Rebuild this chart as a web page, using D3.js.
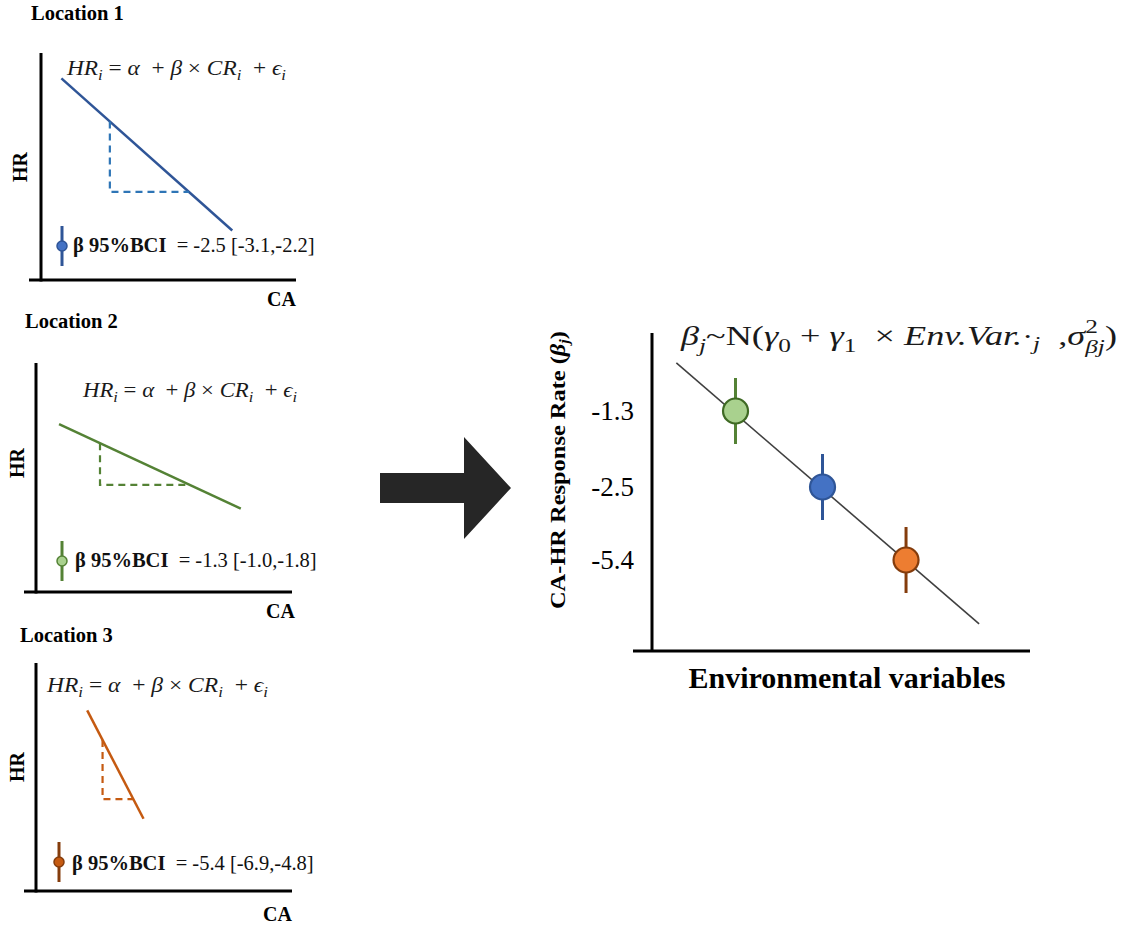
<!DOCTYPE html>
<html>
<head>
<meta charset="utf-8">
<script src="https://cdn.jsdelivr.net/npm/d3@7"></script>
<style>
  html, body { margin: 0; padding: 0; background: #ffffff; }
  svg { display: block; }
</style>
</head>
<body>
<svg id="chart" width="1123" height="925"></svg>
<script>
// ---------------- DATA ----------------
const locations   = ["Location 1", "Location 2", "Location 3"];
const betaEst     = [-2.5, -1.3, -5.4];
const betaLow     = [-3.1, -1.0, -6.9];
const betaHigh    = [-2.2, -1.8, -4.8];
// schematic regression lines in each location panel (HR = alpha + beta * CA)
const alphaHR     = [24.2, 19.5, 30.6];
const lineCAStart = [0.8, 0.9, 2.0];
const lineCAEnd   = [7.5, 8.0, 4.2];
const triCAStart  = [2.7, 2.5, 2.6];
const triCAEnd    = [5.8, 6.0, 3.8];
// right panel
const envVar      = [4.9, 2.4, 7.3];
const yTickValues = [-1.3, -2.5, -5.4];
const regEnv      = [0.7, 9.4];
const regBeta     = [-0.54, -7.94];

// ---------------- STYLE ----------------
const colLine   = ["#2f5597", "#548235", "#c55a11"];
const colDash   = ["#2e75b6", "#548235", "#c55a11"];
const colBar    = ["#2f5597", "#548235", "#843c0c"];
const colFill   = ["#4472c4", "#a9d18e", "#ed7d31"];
const colStroke = ["#2f5597", "#3f6a24", "#843c0c"];
const colMarkFill = ["#4472c4", "#a9d18e", "#c55a11"];

const svg = d3.select("#chart");
const serif = "'Liberation Serif', 'Times New Roman', serif";

// formula helper: pieces drawn sequentially, then stretched to a target width
function drawFormula(parent, x0, y0, size, targetW, pieces) {
  const g = parent.append("g");
  let x = x0;
  pieces.forEach(p => {
    if (p.stack) {
      let w = 0;
      p.stack.forEach(s => {
        const t = g.append("text")
          .attr("x", x).attr("y", y0 + (s.dy || 0) * size)
          .attr("font-family", serif)
          .attr("font-size", size * (s.scale || 1))
          .attr("font-style", s.italic ? "italic" : "normal")
          .attr("fill", "#1a1a1a")
          .text(s.t);
        w = Math.max(w, t.node().getComputedTextLength());
      });
      x += w;
    } else {
      const t = g.append("text")
        .attr("x", x).attr("y", y0 + (p.dy || 0) * size)
        .attr("font-family", serif)
        .attr("font-size", size * (p.scale || 1))
        .attr("font-style", p.italic ? "italic" : "normal")
        .attr("fill", "#1a1a1a")
        .style("white-space", "pre")
        .text(p.t);
      x += t.node().getComputedTextLength();
    }
  });
  const w = x - x0;
  const s = targetW / w;
  g.attr("transform", `translate(${x0},0) scale(${s},1) translate(${-x0},0)`);
  return g;
}

const leftFormula = [
  {t: "HR", italic: true},
  {t: "i", italic: true, scale: 0.72, dy: 0.25},
  {t: " = "},
  {t: "α", italic: true},
  {t: "  + "},
  {t: "β", italic: true},
  {t: " × "},
  {t: "CR", italic: true},
  {t: "i", italic: true, scale: 0.72, dy: 0.25},
  {t: "  + "},
  {t: "ϵ", italic: true},
  {t: "i", italic: true, scale: 0.72, dy: 0.25}
];

// ---------------- LEFT PANELS ----------------
const panels = [
  {corner: [41, 280], top: 53,  right: 296, xStart: 29, title: [31, 20],  formula: [67, 75],  fw: 219, hr: [20, 167], ca: [296, 306], mark: [62, 246], label: [73, 252]},
  {corner: [36, 592], top: 363, right: 292, xStart: 24, title: [25, 328], formula: [83, 397], fw: 214, hr: [17, 463], ca: [295, 618], mark: [62, 561], label: [75, 567]},
  {corner: [36, 891], top: 663, right: 292, xStart: 24, title: [20, 642], formula: [47, 692], fw: 221, hr: [17, 767], ca: [292, 921], mark: [59, 862], label: [72, 870]}
];

locations.forEach((loc, i) => {
  const P = panels[i];
  const g = svg.append("g");
  const x = d3.scaleLinear().domain([0, 10]).range([P.corner[0], P.right]);
  const y = d3.scaleLinear().domain([0, 25]).range([P.corner[1], P.top]);
  const hr = ca => alphaHR[i] + betaEst[i] * ca;

  // title
  g.append("text").attr("x", P.title[0]).attr("y", P.title[1])
    .attr("font-family", serif).attr("font-weight", "bold").attr("font-size", 20.5)
    .text(loc);

  // axes
  g.append("line").attr("x1", P.corner[0]).attr("x2", P.corner[0])
    .attr("y1", P.top).attr("y2", P.corner[1] + 1.5)
    .attr("stroke", "#000").attr("stroke-width", 3);
  g.append("line").attr("x1", P.xStart).attr("x2", P.right)
    .attr("y1", P.corner[1]).attr("y2", P.corner[1])
    .attr("stroke", "#000").attr("stroke-width", 3);

  // axis titles
  g.append("text")
    .attr("transform", `translate(${P.hr[0] + 7},${P.hr[1]}) rotate(-90)`)
    .attr("text-anchor", "middle")
    .attr("font-family", serif).attr("font-weight", "bold").attr("font-size", 20)
    .text("HR");
  g.append("text").attr("x", P.ca[0]).attr("y", P.ca[1])
    .attr("text-anchor", "end")
    .attr("font-family", serif).attr("font-weight", "bold").attr("font-size", 20)
    .text("CA");

  // formula
  drawFormula(g, P.formula[0], P.formula[1], 20, P.fw, leftFormula);

  // regression line
  g.append("line")
    .attr("x1", x(lineCAStart[i])).attr("y1", y(hr(lineCAStart[i])))
    .attr("x2", x(lineCAEnd[i])).attr("y2", y(hr(lineCAEnd[i])))
    .attr("stroke", colLine[i]).attr("stroke-width", 2.5);

  // slope triangle (dashed)
  const xa = x(triCAStart[i]), xb = x(triCAEnd[i]);
  const ya = y(hr(triCAStart[i])), yb = y(hr(triCAEnd[i]));
  g.append("path")
    .attr("d", `M${xa},${ya} L${xa},${yb} L${xb},${yb}`)
    .attr("fill", "none").attr("stroke", colDash[i])
    .attr("stroke-width", 2.2).attr("stroke-dasharray", "7,5");

  // legend marker
  g.append("line").attr("x1", P.mark[0]).attr("x2", P.mark[0])
    .attr("y1", P.mark[1] - 20).attr("y2", P.mark[1] + 20)
    .attr("stroke", colBar[i]).attr("stroke-width", 3);
  g.append("circle").attr("cx", P.mark[0]).attr("cy", P.mark[1]).attr("r", 5)
    .attr("fill", colMarkFill[i]).attr("stroke", colBar[i]).attr("stroke-width", 1.5);

  // label
  const lab = g.append("text").attr("x", P.label[0]).attr("y", P.label[1])
    .attr("font-family", serif).attr("font-size", 20.5).attr("fill", "#111")
    .style("white-space", "pre");
  lab.append("tspan").attr("font-weight", "bold").text("β 95%BCI");
  lab.append("tspan").text(`  = ${betaEst[i].toFixed(1)} [${betaLow[i].toFixed(1)},${betaHigh[i].toFixed(1)}]`);
});

// ---------------- ARROW ----------------
svg.append("path")
  .attr("d", "M380,473 L464,473 L464,437 L511,488 L464,539 L464,503 L380,503 Z")
  .attr("fill", "#262626");

// ---------------- RIGHT PANEL ----------------
const gR = svg.append("g");
const xR = d3.scaleLinear().domain([0, 10]).range([652, 1000]);
const yR = d3.scaleLinear().domain(yTickValues).range([411, 487, 560]);

// axes lines
gR.append("line").attr("x1", 652).attr("x2", 652).attr("y1", 333).attr("y2", 652)
  .attr("stroke", "#000").attr("stroke-width", 3);
gR.append("line").attr("x1", 633).attr("x2", 1030).attr("y1", 651).attr("y2", 651)
  .attr("stroke", "#000").attr("stroke-width", 3);

// y tick labels via axis
const yAxis = gR.append("g").attr("transform", "translate(652,0)")
  .call(d3.axisLeft(yR).tickValues(yTickValues).tickSize(0).tickPadding(18).tickFormat(d => d.toFixed(1)));
yAxis.select(".domain").remove();
yAxis.selectAll("text").attr("font-family", serif).attr("font-size", 27).attr("fill", "#000");

// y title
const yTitle = gR.append("text")
  .attr("transform", "translate(565,470) rotate(-90)")
  .attr("text-anchor", "middle")
  .attr("font-family", serif).attr("font-weight", "bold").attr("font-size", 21)
  .attr("textLength", 278).attr("lengthAdjust", "spacingAndGlyphs");
yTitle.append("tspan").text("CA-HR Response Rate (");
yTitle.append("tspan").attr("font-style", "italic").text("β");
yTitle.append("tspan").attr("font-style", "italic").attr("font-size", 14).attr("dy", 4).text("j");
yTitle.append("tspan").attr("dy", -4).text(")");

// x title
gR.append("text").attr("x", 847).attr("y", 688).attr("text-anchor", "middle")
  .attr("font-family", serif).attr("font-weight", "bold").attr("font-size", 30)
  .text("Environmental variables");

// regression line
gR.append("line")
  .attr("x1", xR(regEnv[0])).attr("y1", yR(regBeta[0]))
  .attr("x2", xR(regEnv[1])).attr("y2", yR(regBeta[1]))
  .attr("stroke", "#404040").attr("stroke-width", 1.6);

// error bars + points
const halfBar = 33;
locations.forEach((loc, i) => {
  const cx = xR(envVar[i]), cy = yR(betaEst[i]);
  gR.append("line").attr("x1", cx).attr("x2", cx)
    .attr("y1", cy - halfBar).attr("y2", cy + halfBar)
    .attr("stroke", colBar[i]).attr("stroke-width", 3);
  gR.append("circle").attr("cx", cx).attr("cy", cy).attr("r", 12.5)
    .attr("fill", colFill[i]).attr("stroke", colStroke[i]).attr("stroke-width", 2.2);
});

// formula top
drawFormula(gR, 681, 345, 27, 436, [
  {t: "β", italic: true},
  {t: "j", italic: true, scale: 0.7, dy: 0.25},
  {t: "~N("},
  {t: "γ", italic: true},
  {t: "0", scale: 0.7, dy: 0.25},
  {t: " + "},
  {t: "γ", italic: true},
  {t: "1", scale: 0.7, dy: 0.25},
  {t: "  × "},
  {t: "Env.Var.", italic: true},
  {t: "·", scale: 0.9},
  {t: "j", italic: true, scale: 0.7, dy: 0.2},
  {t: "  ,"},
  {t: "σ", italic: true},
  {stack: [
    {t: "2", scale: 0.7, dy: -0.45},
    {t: "βj", italic: true, scale: 0.7, dy: 0.3}
  ]},
  {t: ")"}
]);
</script>
</body>
</html>
